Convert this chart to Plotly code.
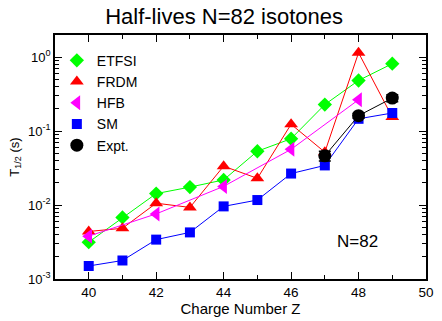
import plotly.graph_objects as go

Z = [40, 41, 42, 43, 44, 45, 46, 47, 48, 49]
etfsi = [0.00315, 0.0068, 0.0143, 0.0175, 0.0219, 0.0535, 0.079, 0.229, 0.485, 0.818]
frdm = [0.0044, 0.00485, 0.0106, 0.0093, 0.0336, 0.023, 0.124, 0.052, 1.15, 0.155]
hfb_Z = [40, 42, 44, 46, 48]
hfb = [0.0038, 0.0076, 0.0179, 0.0568, 0.266]
sm = [0.0015, 0.00178, 0.00341, 0.00427, 0.0096, 0.0117, 0.0267, 0.0344, 0.147, 0.176]
expt_Z = [47, 48, 49]
expt = [0.0464, 0.162, 0.280]
expt_err_plus = [0.007, 0.012, 0.03]
expt_err_minus = [0.007, 0.012, 0.03]

FONT = "Liberation Sans, Arial, sans-serif"

series = [
    ("ETFSI", Z, etfsi, "#00ff00", "diamond", 11, None),
    ("FRDM", Z, frdm, "#ff0000", "triangle-up", 12, None),
    ("HFB", hfb_Z, hfb, "#ff00ff", "triangle-left", 13, None),
    ("SM", Z, sm, "#0000ff", "square", 10, None),
    ("Expt.", expt_Z, expt, "black", "circle", 13,
     dict(type="data", array=expt_err_plus, arrayminus=expt_err_minus,
          color="black", thickness=1.5, width=6)),
]

fig = go.Figure()
for name, xs, ys, col, sym, sz, err in series:
    fig.add_trace(go.Scatter(x=xs, y=ys, mode="lines", showlegend=False, hoverinfo="skip",
                             line=dict(color=col, width=1)))
    fig.add_trace(go.Scatter(x=xs, y=ys, mode="markers", name=name,
                             marker=dict(symbol=sym, size=sz, color=col, line=dict(width=0)),
                             error_y=err))

y_major = [0.001, 0.01, 0.1, 1]
y_text = ["10<sup>-3</sup>", "10<sup>-2</sup>", "10<sup>-1</sup>", "10<sup>0</sup>"]
y_minor = []
for e in [0.001, 0.01, 0.1, 1]:
    for k in range(2, 10):
        if k * e <= 2.0:
            y_minor.append(k * e)

fig.update_layout(
    width=442, height=321,
    margin=dict(l=55, r=8, t=35, b=34),
    paper_bgcolor="white", plot_bgcolor="white",
    font=dict(family=FONT, color="black", size=13),
    title=dict(text="Half-lives N=82 isotones", x=0.507, xref="container",
               xanchor="center", y=0.95, yanchor="middle",
               font=dict(size=22, family=FONT, color="black")),
    showlegend=True,
    legend=dict(x=0.005, y=0.96, xanchor="left", yanchor="top", bgcolor="rgba(0,0,0,0)",
                font=dict(size=14, family=FONT), itemwidth=30, tracegroupgap=0),
    annotations=[dict(text="N=82", x=0.876, y=0.107, xref="paper", yref="paper",
                      showarrow=False, font=dict(size=17, family=FONT, color="black"))],
)

fig.update_xaxes(range=[39, 50], tickvals=[40, 42, 44, 46, 48, 50],
                 ticks="inside", ticklen=7, tickwidth=1.2, tickcolor="black",
                 minor=dict(dtick=1, tick0=39, ticks="inside", ticklen=4, tickcolor="black", tickwidth=1),
                 showline=True, linecolor="black", linewidth=1.5, mirror="ticks",
                 showgrid=False, zeroline=False,
                 tickfont=dict(size=13.5, family=FONT),
                 title=dict(text="Charge Number Z", font=dict(size=15, family=FONT), standoff=3))
fig.update_yaxes(type="log", range=[-3, 0.301],
                 tickmode="array", tickvals=y_major, ticktext=y_text,
                 ticks="inside", ticklen=7, tickwidth=1.2, tickcolor="black",
                 minor=dict(tickmode="array", tickvals=y_minor, ticks="inside", ticklen=4,
                            tickcolor="black", tickwidth=1),
                 showline=True, linecolor="black", linewidth=1.5, mirror="ticks",
                 showgrid=False, zeroline=False,
                 tickfont=dict(size=13, family=FONT),
                 title=dict(text="T<sub>1/2</sub> (s)", font=dict(size=13, family=FONT), standoff=6))

fig.write_html("out.html")
